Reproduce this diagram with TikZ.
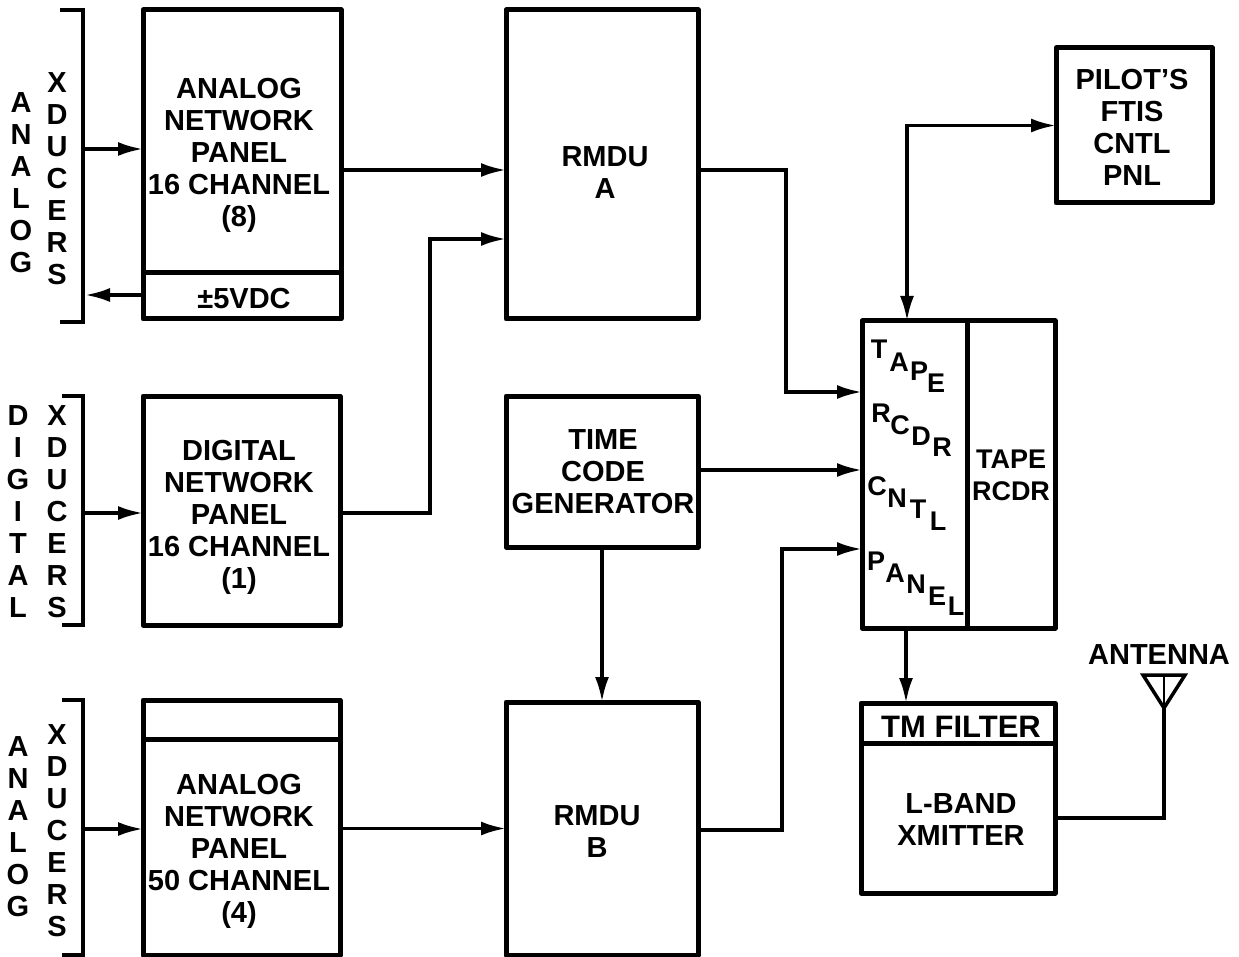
\documentclass[tikz,border=0pt]{standalone}
\usepackage{fontspec}
\setmainfont{Liberation Sans}
\usetikzlibrary{arrows.meta}
\begin{document}
\begin{tikzpicture}[x=1pt,y=-1pt,>={Latex[length=25pt,width=14pt]},
font=\fontsize{29}{32}\selectfont\bfseries,
blk/.style={draw,line width=5pt,inner sep=0pt,outer sep=0pt,line join=round},
txt/.style={align=center,inner sep=0pt},
flow/.style={line width=3.5pt,->},
wire/.style={line width=3.5pt},
brk/.style={line width=3.5pt},
ltr/.style={inner sep=0pt,font=\fontsize{27}{32}\selectfont\bfseries}]
\useasboundingbox (0,0) rectangle (1239,957);
% left column
\node[blk,minimum width=198pt,minimum height=263pt] (anpa) at (242,141.5) {};
\node[blk,minimum width=198pt,minimum height=46pt] (vdc) at (242,296) {};
\node[txt] (anpatxt) at (239,155) {ANALOG\\NETWORK\\PANEL\\16 CHANNEL\\(8)};
\node[txt] (vdctxt) at (244,299) {±5VDC};
\node[blk,minimum width=197pt,minimum height=229pt] (dnp) at (241.5,510.5) {};
\node[txt] (dnptxt) at (239,517) {DIGITAL\\NETWORK\\PANEL\\16 CHANNEL\\(1)};
\node[blk,minimum width=197pt,minimum height=39pt] (anpbtop) at (241.5,719.5) {};
\node[blk,minimum width=197pt,minimum height=216pt] (anpb) at (241.5,847) {};
\node[txt] (anpbtxt) at (239,851) {ANALOG\\NETWORK\\PANEL\\50 CHANNEL\\(4)};
% middle column
\node[blk,minimum width=192pt,minimum height=309pt] (rmdua) at (602,164.5) {};
\node[txt] (rmduatxt) at (605,173) {RMDU\\A};
\node[blk,minimum width=192pt,minimum height=151pt] (tcg) at (602,471.5) {};
\node[txt] (tcgtxt) at (603,472) {TIME\\CODE\\GENERATOR};
\node[blk,minimum width=192pt,minimum height=253pt] (rmdub) at (602,828.5) {};
\node[txt] (rmdubtxt) at (597,832) {RMDU\\B};
% right column
\node[blk,minimum width=156pt,minimum height=155pt] (pilot) at (1134,125.5) {};
\node[txt] (pilottxt) at (1132,127) {PILOT'S\\FTIS\\CNTL\\PNL};
\node[blk,minimum width=105pt,minimum height=307pt] (tcp) at (914.5,474.5) {};
\node[blk,minimum width=88pt,minimum height=307pt] (rcdr) at (1011,474.5) {};
\node[txt,font=\fontsize{27}{32}\selectfont\bfseries] (rcdrtxt) at (1011,475) {TAPE\\RCDR};
\node[blk,minimum width=194pt,minimum height=40pt] (tmf) at (958,723) {};
\node[txt,font=\fontsize{31}{32}\selectfont\bfseries] (tmftxt) at (961,727) {TM FILTER};
\node[blk,minimum width=194pt,minimum height=150pt] (xmit) at (958,818) {};
\node[txt] (xmittxt) at (961,820) {L-BAND\\XMITTER};
\foreach \c/\xp/\yp [count=\i] in {T/879/349,A/899/362,P/919/371,E/936/383,
R/881/413,C/900/425,D/921/436,R/942/447,C/877/486,N/897/498,T/918/509,L/938/521,
P/876/561,A/895/573,N/916/584,E/937/596,L/956/606}
\node[ltr] (tcp\i) at (\xp,\yp) {\c};
% transducer brackets
\draw[brk] (60,10) -- (83,10) -- (83,322) -- (60,322);
\draw[brk] (62,396) -- (83,396) -- (83,625) -- (62,625);
\draw[brk] (62,700) -- (83,700) -- (83,955) -- (62,955);
\node[txt] (ana) at (21,183) {A\\N\\A\\L\\O\\G};
\node[txt] (xda) at (57,179) {X\\D\\U\\C\\E\\R\\S};
\node[txt] (dig) at (18,512) {D\\I\\G\\I\\T\\A\\L};
\node[txt] (xdd) at (57,512) {X\\D\\U\\C\\E\\R\\S};
\node[txt] (anb) at (18,827) {A\\N\\A\\L\\O\\G};
\node[txt] (xdb) at (57,831) {X\\D\\U\\C\\E\\R\\S};
\coordinate (brka) at (83,149);
\coordinate (brkv) at (85,295);
\coordinate (brkd) at (83,513);
\coordinate (brkb) at (83,829);
\draw[flow] (brka) -- (brka -| anpa.west);
\draw[flow] (brkv -| vdc.west) -- (brkv);
\draw[flow] (brkd) -- (brkd -| dnp.west);
\draw[flow] (brkb) -- (brkb -| anpb.west);
% signal routes
\coordinate (ina) at (506,170);
\coordinate (inb) at (506,239);
\coordinate (outa) at (698,170);
\coordinate (outd) at (340,513);
\coordinate (outb) at (698,830);
\coordinate (tpa) at (862,392);
\coordinate (tpt) at (862,470);
\coordinate (tpb) at (862,549);
\coordinate (tptop) at (907,321);
\coordinate (tpbot) at (906,628);
\draw[flow] (ina -| anpa.east) -- (ina);
\draw[flow] (outd) -| (430,239) -- (inb);
\draw[flow] (outa) -| (786,392) -- (tpa);
\draw[flow] (tpt -| tcg.east) -- (tpt);
\draw[flow] (outb) -| (782,549) -- (tpb);
\draw[flow] (tcg.south) -- (rmdub.north);
\draw[flow] (tpbot) -- (tpbot |- tmf.north);
\draw[flow,<->] (pilot.west) -| (tptop);
\draw[flow] (anpb.east |- rmdub.east) -- (rmdub.west);
% antenna
\node[txt] (anttxt) at (1159,655) {ANTENNA};
\coordinate (anttip) at (1164,708);
\draw[wire,line join=miter] (1143,675) -- (1185,675) -- (anttip) -- cycle;
\draw[line width=2pt] (1164,675) -- (anttip);
\draw[wire] (xmit.east) -| (anttip);
\end{tikzpicture}
\end{document}
